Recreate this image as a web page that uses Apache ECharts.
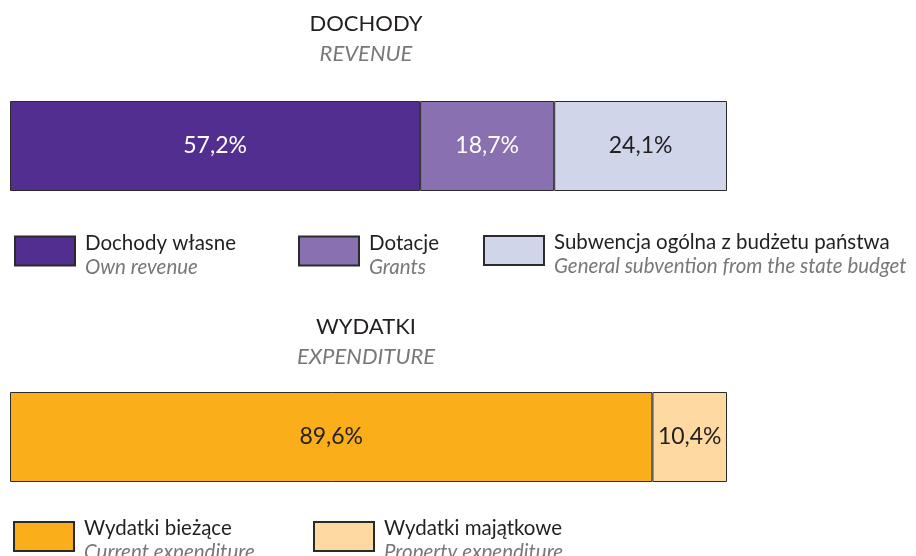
<!DOCTYPE html>
<html>
<head>
<meta charset="utf-8">
<script src="https://cdn.jsdelivr.net/npm/echarts@6/dist/echarts.min.js"></script>
<style>
  html, body { margin: 0; padding: 0; background: #fff; }
  #chart { width: 916px; height: 556px; }
</style>
</head>
<body>
<div id="chart"></div>
<script>
const revenueNames = ["Dochody własne", "Dotacje", "Subwencja ogólna z budżetu państwa"];
const revenueNamesEn = ["Own revenue", "Grants", "General subvention from the state budget"];
const revenueValues = [57.2, 18.7, 24.1];
const revenueColors = ["#512e8f", "#8870b1", "#d0d5ea"];
const revenueLabelColors = ["#ffffff", "#ffffff", "#231f20"];

const expenseNames = ["Wydatki bieżące", "Wydatki majątkowe"];
const expenseNamesEn = ["Current expenditure", "Property expenditure"];
const expenseValues = [89.6, 10.4];
const expenseColors = ["#f9ae1a", "#fed9a1"];
const expenseLabelColors = ["#231f20", "#231f20"];

const FONT = "Lato, 'Open Sans', sans-serif";
const chart = echarts.init(document.getElementById("chart"));

const enByName = {};
revenueNames.forEach((n, i) => (enByName[n] = revenueNamesEn[i]));
expenseNames.forEach((n, i) => (enByName[n] = expenseNamesEn[i]));

const fmt = (v) => v.toFixed(1).replace(".", ",") + "%";

function makeSeries(names, values, colors, labelColors, gridIdx) {
  return names.map((name, i) => ({
    name: name,
    type: "bar",
    stack: "s" + gridIdx,
    xAxisIndex: gridIdx,
    yAxisIndex: gridIdx,
    barWidth: "100%",
    data: [values[i]],
    itemStyle: { color: colors[i], borderColor: "#2b2b2b", borderWidth: 1 },
    label: {
      show: true,
      position: "inside",
      formatter: (p) => fmt(p.value),
      color: labelColors[i],
      fontFamily: FONT,
      fontSize: 23
    },
    emphasis: { disabled: true }
  }));
}

// legend entry: coloured box + polish name + english name below
function makeLegend(name, left, top) {
  return {
    data: [name],
    left: left,
    top: top,
    padding: 0,
    icon: "rect",
    itemWidth: 60,
    itemHeight: 29,
    selectedMode: false,
    formatter: (n) => "{s| }\n{a|" + n + "}\n{b|" + enByName[n] + "}",
    textStyle: {
      rich: {
        s: { fontSize: 1, lineHeight: 8 },
        a: { fontFamily: FONT, fontSize: 20.5, color: "#231f20", lineHeight: 24, padding: [0, 0, 0, 5] },
        b: { fontFamily: FONT, fontSize: 20.5, fontStyle: "italic", color: "#77787b", lineHeight: 24, padding: [0, 0, 0, 5] }
      }
    }
  };
}

const option = {
  animation: false,
  title: [
    {
      text: "DOCHODY",
      subtext: "REVENUE",
      left: 361,
      textAlign: "center",
      top: 8,
      itemGap: 8,
      textStyle: { fontFamily: FONT, fontSize: 22, fontWeight: "normal", color: "#231f20" },
      subtextStyle: { fontFamily: FONT, fontSize: 22, fontStyle: "italic", color: "#77787b" }
    },
    {
      text: "WYDATKI",
      subtext: "EXPENDITURE",
      left: 361,
      textAlign: "center",
      top: 311,
      itemGap: 8,
      textStyle: { fontFamily: FONT, fontSize: 22, fontWeight: "normal", color: "#231f20" },
      subtextStyle: { fontFamily: FONT, fontSize: 22, fontStyle: "italic", color: "#77787b" }
    }
  ],
  grid: [
    { left: 10, top: 101, width: 717, height: 90 },
    { left: 10, top: 392, width: 717, height: 90 }
  ],
  xAxis: [0, 1].map((i) => ({
    type: "value",
    gridIndex: i,
    min: 0,
    max: 100,
    show: false
  })),
  yAxis: [0, 1].map((i) => ({
    type: "category",
    gridIndex: i,
    data: [""],
    show: false
  })),
  legend: [
    makeLegend(revenueNames[0], 14, 226.5),
    makeLegend(revenueNames[1], 298, 226.5),
    makeLegend(revenueNames[2], 483, 226),
    makeLegend(expenseNames[0], 13, 512),
    makeLegend(expenseNames[1], 313, 512)
  ],
  series: [
    ...makeSeries(revenueNames, revenueValues, revenueColors, revenueLabelColors, 0),
    ...makeSeries(expenseNames, expenseValues, expenseColors, expenseLabelColors, 1)
  ]
};

chart.setOption(option);
</script>
</body>
</html>
